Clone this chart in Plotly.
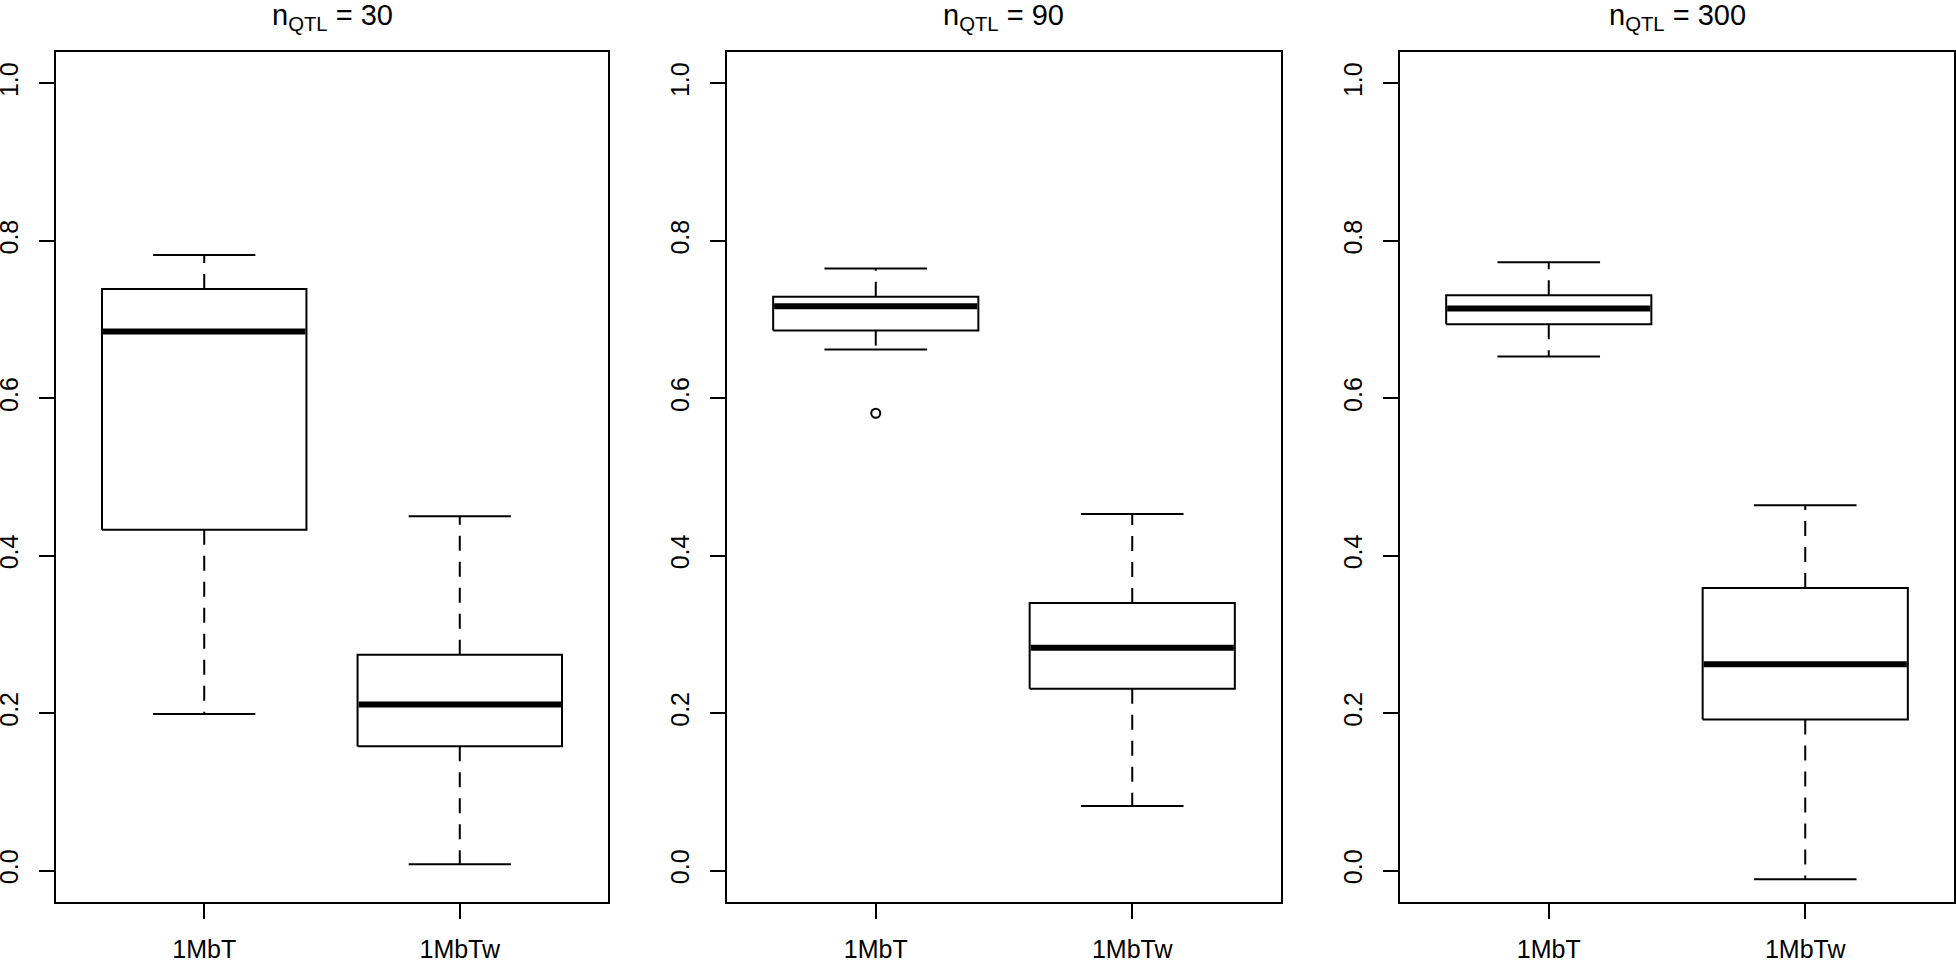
import plotly.graph_objects as go

# ---------------- data ----------------
categories = ["1MbT", "1MbTw"]
n_qtl = [30, 90, 300]

lower_whisker = [[0.199, 0.008], [0.662, 0.082], [0.653, -0.011]]
q1_values = [[0.433, 0.158], [0.686, 0.231], [0.694, 0.192]]
median_values = [[0.685, 0.211], [0.717, 0.283], [0.714, 0.262]]
q3_values = [[0.739, 0.274], [0.729, 0.340], [0.731, 0.359]]
upper_whisker = [[0.782, 0.450], [0.765, 0.453], [0.773, 0.464]]
outliers = [[[], []], [[0.581], []], [[], []]]

y_ticks = [0.0, 0.2, 0.4, 0.6, 0.8, 1.0]
y_tick_labels = ["0.0", "0.2", "0.4", "0.6", "0.8", "1.0"]

# ---------------- style ----------------
W, H = 1956, 960
FONT = "Liberation Sans, Arial, Helvetica, sans-serif"
BOX_HALF = 0.4      # boxwex 0.8
CAP_HALF = 0.2      # staplewex 0.5
LW = 2
panel_px = [(56, 608), (727, 1281), (1400, 1954)]
top_px, bottom_px = 52, 902

fig = go.Figure()

for p in range(3):
    xa = "x" if p == 0 else f"x{p+1}"
    ya = "y" if p == 0 else f"y{p+1}"
    for i, cat in enumerate(categories):
        xc = i + 1
        lo, q1, md, q3, hi = (lower_whisker[p][i], q1_values[p][i], median_values[p][i],
                              q3_values[p][i], upper_whisker[p][i])
        # box
        fig.add_trace(go.Scatter(
            x=[xc - BOX_HALF, xc + BOX_HALF, xc + BOX_HALF, xc - BOX_HALF, xc - BOX_HALF],
            y=[q1, q1, q3, q3, q1], mode="lines",
            line=dict(color="black", width=LW), xaxis=xa, yaxis=ya,
            showlegend=False, hoverinfo="skip"))
        # whiskers (dashed)
        fig.add_trace(go.Scatter(
            x=[xc, xc, None, xc, xc], y=[q3, hi, None, q1, lo], mode="lines",
            line=dict(color="black", width=LW, dash="15px,11px"), xaxis=xa, yaxis=ya,
            showlegend=False, hoverinfo="skip"))
        # caps
        fig.add_trace(go.Scatter(
            x=[xc - CAP_HALF, xc + CAP_HALF, None, xc - CAP_HALF, xc + CAP_HALF],
            y=[hi, hi, None, lo, lo], mode="lines",
            line=dict(color="black", width=LW), xaxis=xa, yaxis=ya,
            showlegend=False, hoverinfo="skip"))
        # median (thick)
        fig.add_trace(go.Scatter(
            x=[xc - BOX_HALF + 0.004, xc + BOX_HALF - 0.004], y=[md, md], mode="lines",
            line=dict(color="black", width=6), xaxis=xa, yaxis=ya,
            showlegend=False, name=f"{cat} median"))
        # outliers
        if outliers[p][i]:
            fig.add_trace(go.Scatter(
                x=[xc] * len(outliers[p][i]), y=outliers[p][i], mode="markers",
                marker=dict(symbol="circle-open", size=9, color="black",
                            line=dict(width=2, color="black")),
                xaxis=xa, yaxis=ya, showlegend=False))

axis_common = dict(showline=True, linecolor="black", linewidth=LW, mirror=True,
                   showgrid=False, zeroline=False, ticks="outside", ticklen=15,
                   tickwidth=LW, tickcolor="black", automargin=False)

layout = dict(width=W, height=H, margin=dict(l=0, r=0, t=0, b=0),
              paper_bgcolor="white", plot_bgcolor="white", showlegend=False,
              font=dict(family=FONT, size=24, color="black"))

annotations = []
for p, (x0, x1) in enumerate(panel_px):
    sfx = "" if p == 0 else str(p + 1)
    layout[f"xaxis{sfx}"] = dict(
        domain=[x0 / W, x1 / W], range=[0.42, 2.58], tickvals=[1, 2],
        ticktext=categories, anchor=f"y{sfx}", ticklabelstandoff=9,
        tickfont=dict(family=FONT, size=25, color="black"), **axis_common)
    layout[f"yaxis{sfx}"] = dict(
        domain=[1 - bottom_px / H, 1 - top_px / H], range=[-0.04, 1.04],
        tickvals=y_ticks, ticktext=y_tick_labels, tickangle=-90,
        anchor=f"x{sfx}", ticklabelstandoff=11,
        tickfont=dict(family=FONT, size=25, color="black"), **axis_common)
    annotations.append(dict(
        text=f"n<sub>QTL</sub> = {n_qtl[p]}", x=(x0 + x1) / 2 / W, y=1.0,
        xref="paper", yref="paper", xanchor="center", yanchor="top", yshift=3,
        showarrow=False, font=dict(family=FONT, size=29, color="black")))
layout["annotations"] = annotations

fig.update_layout(**layout)
fig.write_html("out.html", config={"displayModeBar": False},
               post_script="document.body.style.margin='0';document.body.style.padding='0';")
